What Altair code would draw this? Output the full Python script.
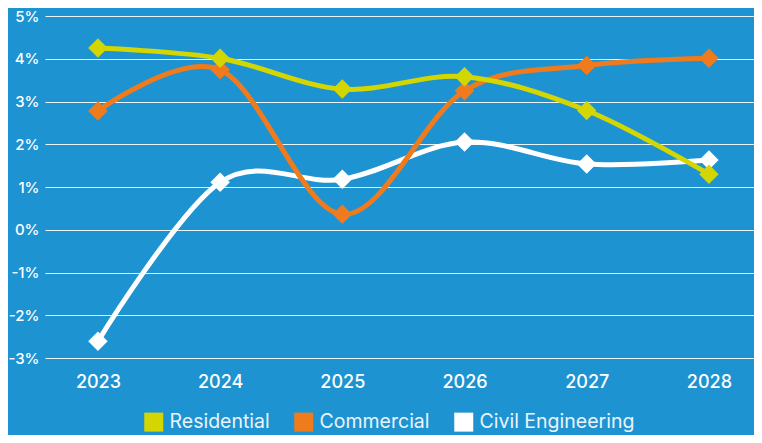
import altair as alt
import pandas as pd

years = ["2023", "2024", "2025", "2026", "2027", "2028"]
series_names = ["Residential", "Commercial", "Civil Engineering"]
residential = [4.25, 4.01, 3.29, 3.58, 2.79, 1.30]
commercial = [2.78, 3.74, 0.36, 3.25, 3.84, 4.01]
civil = [-2.61, 1.11, 1.18, 2.05, 1.54, 1.63]
colors = ["#d3d600", "#ef7b1d", "#ffffff"]
y_ticks = [-3, -2, -1, 0, 1, 2, 3, 4, 5]

rows = []
for name, vals in zip(series_names, [residential, commercial, civil]):
    for yr, v in zip(years, vals):
        rows.append({"year": yr, "value": v, "series": name})
df = pd.DataFrame(rows)

FONT = "Inter"

x_enc = alt.X(
    "year:O",
    sort=years,
    scale=alt.Scale(type="point", padding=0.401, align=0.54),
    axis=alt.Axis(title=None, labelAngle=0, labelFontSize=18, labelFontWeight=500,
                  labelColor="white", labelPadding=15, ticks=False, domain=False,
                  grid=False, labelFont=FONT),
)
y_enc = alt.Y(
    "value:Q",
    scale=alt.Scale(domain=[-3, 5], nice=False, zero=False),
    axis=alt.Axis(title=None, values=y_ticks, labelExpr="datum.value + '%'",
                  labelFontSize=15, labelFontWeight=500, labelColor="white",
                  labelPadding=6, ticks=False, domain=False, grid=True,
                  gridColor="white", gridWidth=1.2, gridOpacity=0.9, labelFont=FONT),
)

color_scale = alt.Scale(domain=series_names, range=colors)
legend = alt.Legend(title=None, orient="none", direction="horizontal",
                    legendX=99, legendY=396, symbolType="square",
                    symbolSize=361, symbolStrokeWidth=0,
                    labelFontSize=19.5, labelFontWeight=400, labelColor="#eaf4fb",
                    labelFont=FONT, labelOffset=6,
                    columnPadding=24, padding=0)

layers = []
for name in ["Civil Engineering", "Commercial", "Residential"]:
    base = alt.Chart(df).transform_filter(alt.datum.series == name)
    line = base.mark_line(interpolate="cardinal", strokeWidth=5).encode(
        x=x_enc, y=y_enc,
        stroke=alt.Stroke("series:N", scale=color_scale, sort=series_names, legend=legend),
    )
    pts = base.mark_point(shape="diamond", filled=True, size=380, opacity=1).encode(
        x=x_enc, y=y_enc,
        fill=alt.Fill("series:N", scale=color_scale, sort=series_names, legend=legend),
    )
    layers += [line, pts]

chart = alt.layer(*layers).properties(
    width=709, height=342,
    autosize=alt.AutoSizeParams(type="none"),
    padding={"left": 37, "top": 8, "right": 0, "bottom": 77},
    background="#1e93d2",
).configure_view(stroke=None)

chart.save("out.html", embed_options={"renderer": "svg", "actions": False})
